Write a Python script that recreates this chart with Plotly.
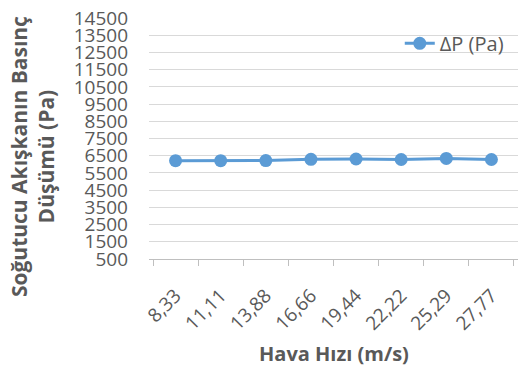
import plotly.graph_objects as go

categories = ["8,33", "11,11", "13,88", "16,66", "19,44", "22,22", "25,29", "27,77"]
dp_values = [6210, 6210, 6220, 6290, 6310, 6280, 6340, 6280]
series_name = "ΔP (Pa)"
y_title_lines = ["Soğutucu Akışkanın Basınç", "Düşümü (Pa)"]
x_title = "Hava Hızı (m/s)"

FONT = "Open Sans"
GRAY = "#595959"
BLUE = "#5B9BD5"

fig = go.Figure()
fig.add_trace(go.Scatter(
    x=categories, y=dp_values, name=series_name, mode="lines+markers",
    line=dict(color=BLUE, width=3),
    marker=dict(color=BLUE, size=13),
))

fig.update_layout(
    width=519, height=367,
    margin=dict(l=149, r=1, t=18, b=108),
    paper_bgcolor="white", plot_bgcolor="white",
    font=dict(family=FONT, color=GRAY, size=19),
    showlegend=True,
    legend=dict(x=0.975, y=0.895, xanchor="right", yanchor="middle",
                bgcolor="rgba(0,0,0,0)", font=dict(size=20, color=GRAY)),
    xaxis=dict(
        type="category", tickangle=-45, tickson="boundaries",
        ticks="outside", ticklen=6, tickcolor="#BFBFBF",
        showline=True, linecolor="#BFBFBF", linewidth=1,
        showgrid=False, tickfont=dict(size=19, color=GRAY),
        ticklabelstandoff=17,
    ),
    yaxis=dict(
        range=[500, 14500], tick0=500, dtick=1000, tickformat="d",
        showgrid=True, gridcolor="#D9D9D9", gridwidth=1,
        zeroline=False, showline=False, ticks="",
        tickfont=dict(size=19, color=GRAY),
        ticklabelstandoff=20,
    ),
    annotations=[
        dict(text=f"<b>{y_title_lines[0]}<br>{y_title_lines[1]}</b>",
             xref="paper", yref="paper", x=-0.317, y=0.423,
             xanchor="center", yanchor="middle", textangle=-90,
             showarrow=False, font=dict(size=21, color=GRAY, family=FONT)),
        dict(text=f"<b>{x_title}</b>",
             xref="paper", yref="paper", x=0.5, y=-0.394,
             xanchor="center", yanchor="middle",
             showarrow=False, font=dict(size=20, color=GRAY, family=FONT)),
    ],
)

fig.write_html("out.html")
